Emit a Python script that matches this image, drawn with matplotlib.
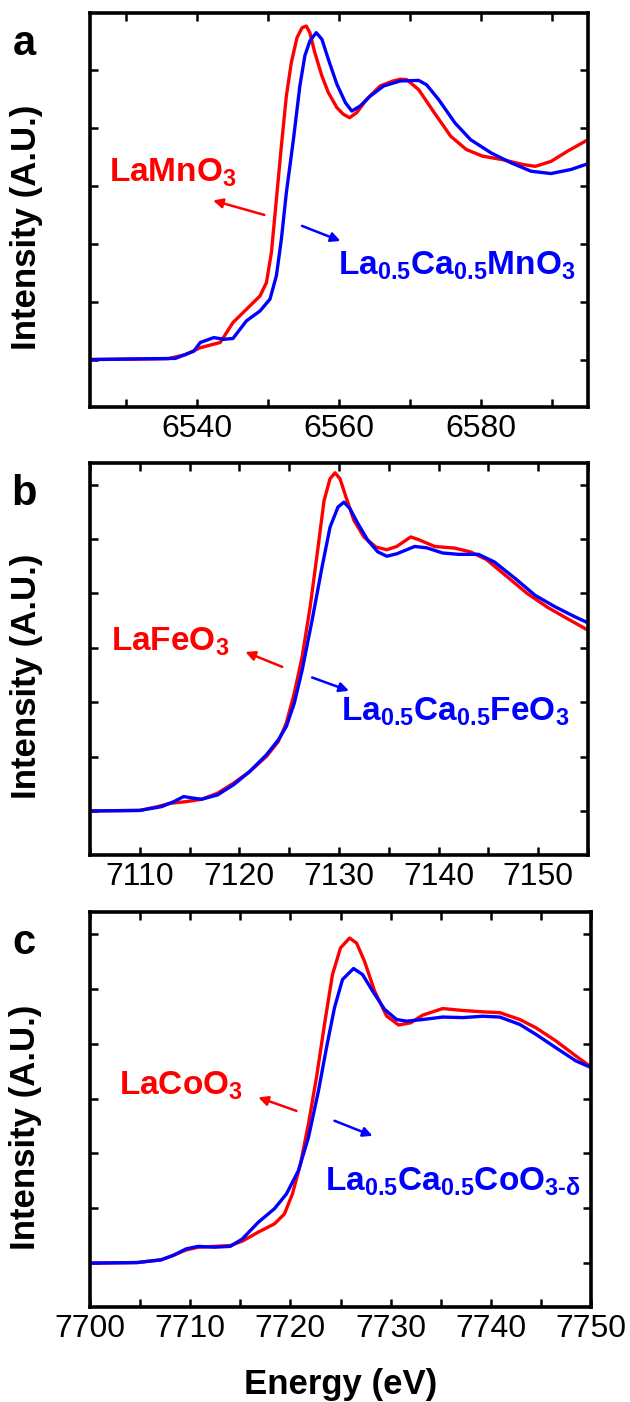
import matplotlib
matplotlib.use("Agg")
import matplotlib.pyplot as plt
from matplotlib.ticker import MultipleLocator, NullFormatter

plt.rcParams['font.family'] = ['Liberation Sans', 'DejaVu Sans']
plt.rcParams['mathtext.fontset'] = 'custom'
plt.rcParams['mathtext.rm'] = 'Liberation Sans:bold'
plt.rcParams['mathtext.bf'] = 'Liberation Sans:bold'
plt.rcParams['mathtext.default'] = 'bf'

# ---- panel a : Mn K-edge ----
mn_red_e = [6525, 6536, 6538.4, 6540.5, 6543.3, 6545.1, 6547.0, 6548.9, 6549.8, 6550.5, 6551.2,
            6551.9, 6552.6, 6553.3, 6554.1, 6554.8, 6555.4, 6555.9, 6556.6, 6557.6, 6558.5,
            6559.7, 6560.6, 6561.5, 6562.5, 6563.9, 6565.8, 6567.6, 6568.6, 6569.5, 6571.2,
            6573.4, 6575.7, 6577.9, 6580.2, 6583, 6585.9, 6587.6, 6589.8, 6592.1, 6595]
mn_red_i = [0.0, 0.003, 0.017, 0.041, 0.059, 0.128, 0.174, 0.22, 0.266, 0.37, 0.554,
            0.738, 0.911, 1.027, 1.113, 1.147, 1.153, 1.13, 1.061, 0.98, 0.923,
            0.871, 0.848, 0.836, 0.854, 0.90, 0.946, 0.963, 0.969, 0.968, 0.933,
            0.853, 0.772, 0.726, 0.703, 0.691, 0.674, 0.668, 0.685, 0.72, 0.76]
mn_blue_e = [6525, 6537, 6539.6, 6540.5, 6542.4, 6543.8, 6545.1, 6547.0, 6548.9, 6550.3, 6551.2,
             6551.9, 6552.6, 6553.6, 6554.5, 6555.2, 6555.9, 6556.8, 6557.6, 6558.5, 6559.7,
             6560.9, 6561.8, 6563.0, 6564.4, 6566.3, 6568.6, 6571.2, 6572.3, 6574, 6576.3,
             6578.5, 6581.4, 6584.2, 6587, 6589.8, 6592.6, 6595]
mn_blue_i = [0.0, 0.004, 0.029, 0.059, 0.076, 0.07, 0.073, 0.134, 0.168, 0.209, 0.29,
             0.416, 0.577, 0.762, 0.946, 1.05, 1.101, 1.13, 1.107, 1.038, 0.952,
             0.888, 0.859, 0.877, 0.911, 0.946, 0.963, 0.965, 0.95, 0.899, 0.818,
             0.76, 0.714, 0.68, 0.651, 0.643, 0.657, 0.677]

# ---- panel b : Fe K-edge ----
fe_red_e = [7105, 7110, 7111.8, 7113, 7114.6, 7116.2, 7117.8, 7119.4, 7121, 7122.7, 7123.9,
            7124.7, 7125.5, 7126.3, 7127.1, 7127.9, 7128.5, 7129.1, 7129.6, 7130.1, 7130.7,
            7131.5, 7132.5, 7133.7, 7134.8, 7135.8, 7137.2, 7138, 7139.6, 7141.6, 7143.2,
            7144.8, 7146.9, 7148.9, 7150.9, 7152.9, 7155]
fe_red_i = [0.0, 0.002, 0.016, 0.028, 0.034, 0.043, 0.065, 0.102, 0.144, 0.2, 0.255,
            0.322, 0.432, 0.567, 0.75, 0.971, 1.142, 1.222, 1.244, 1.222, 1.155,
            1.069, 1.008, 0.971, 0.961, 0.973, 1.008, 0.998, 0.973, 0.967, 0.953,
            0.925, 0.861, 0.80, 0.75, 0.708, 0.665]
fe_blue_e = [7105, 7110, 7112.2, 7113.4, 7114.4, 7115.4, 7116.2, 7117.8, 7119.4, 7121, 7122.7,
             7123.9, 7124.7, 7125.5, 7126.3, 7127.3, 7128.3, 7129.1, 7129.9, 7130.5, 7131.1,
             7131.9, 7132.9, 7133.9, 7134.8, 7135.8, 7137.6, 7138.8, 7140.4, 7142, 7144,
             7145.6, 7147.7, 7149.7, 7151.7, 7153.7, 7155]
fe_blue_i = [0.0, 0.002, 0.016, 0.034, 0.053, 0.047, 0.043, 0.059, 0.096, 0.144, 0.206,
             0.261, 0.31, 0.395, 0.518, 0.702, 0.898, 1.044, 1.118, 1.136, 1.112,
             1.057, 0.995, 0.953, 0.937, 0.946, 0.973, 0.968, 0.949, 0.944, 0.944,
             0.916, 0.855, 0.793, 0.751, 0.714, 0.692]

# ---- panel c : Co K-edge ----
co_red_e = [7700, 7704.7, 7707.1, 7708.3, 7709.6, 7710.8, 7712.4, 7714, 7715.2, 7716.8, 7718.4,
            7719.4, 7720.2, 7721, 7721.8, 7722.6, 7723.4, 7724.2, 7725, 7725.9, 7726.6,
            7727.4, 7728.4, 7729.6, 7730.8, 7732, 7733.2, 7735.2, 7737.2, 7739.2, 7740.9,
            7742.9, 7744.5, 7746.5, 7748.5, 7750]
co_red_i = [0.0, 0.002, 0.012, 0.028, 0.048, 0.058, 0.061, 0.064, 0.08, 0.113, 0.143,
            0.179, 0.252, 0.361, 0.507, 0.676, 0.87, 1.052, 1.149, 1.185, 1.167,
            1.10, 0.992, 0.901, 0.868, 0.876, 0.904, 0.928, 0.921, 0.916, 0.913,
            0.888, 0.858, 0.81, 0.755, 0.715]
co_blue_e = [7700, 7704.7, 7707.1, 7708.3, 7709.6, 7710.8, 7712.4, 7714, 7715.2, 7716.8, 7718.4,
             7719.6, 7720.8, 7721.8, 7722.8, 7723.6, 7724.4, 7725.2, 7726.3, 7727.2, 7728.2,
             7729.4, 7730.6, 7731.6, 7733.2, 7735.2, 7737.2, 7739.2, 7740.9, 7742.9, 7744.5,
             7746.5, 7748.5, 7750]
co_blue_i = [0.0, 0.002, 0.012, 0.028, 0.052, 0.061, 0.058, 0.061, 0.088, 0.149, 0.198,
             0.252, 0.337, 0.458, 0.628, 0.785, 0.931, 1.034, 1.074, 1.052, 0.992,
             0.925, 0.888, 0.882, 0.888, 0.897, 0.895, 0.90, 0.897, 0.87, 0.834,
             0.785, 0.737, 0.713]

red = '#ff0000'
blue = '#0000ff'

panels = [
    dict(letter='a', rect=[90, 13, 588, 407], xlim=(6525, 6595), ylim=(-0.164, 1.198),
         major=20, minor=10,
         red=(mn_red_e, mn_red_i), blue=(mn_blue_e, mn_blue_i),
         red_name='LaMnO$_3$', blue_name='La$_{0.5}$Ca$_{0.5}$MnO$_3$',
         red_txt=(6527.7, 0.616), blue_txt=(6559.9, 0.294),
         red_arr=((6549.5, 0.50), (6542.3, 0.55)), blue_arr=((6554.8, 0.462), (6560.2, 0.41))),
    dict(letter='b', rect=[90, 463, 588, 855], xlim=(7105, 7155), ylim=(-0.162, 1.28),
         major=10, minor=5,
         red=(fe_red_e, fe_red_i), blue=(fe_blue_e, fe_blue_i),
         red_name='LaFeO$_3$', blue_name='La$_{0.5}$Ca$_{0.5}$FeO$_3$',
         red_txt=(7107.1, 0.589), blue_txt=(7130.2, 0.334),
         red_arr=((7124.3, 0.53), (7120.6, 0.585)), blue_arr=((7127.3, 0.491), (7131.0, 0.442))),
    dict(letter='c', rect=[90, 912, 591, 1307], xlim=(7700, 7750), ylim=(-0.16, 1.28),
         major=10, minor=5,
         red=(co_red_e, co_red_i), blue=(co_blue_e, co_blue_i),
         red_name='LaCoO$_3$', blue_name='La$_{0.5}$Ca$_{0.5}$CoO$_{3\u2010\u03b4}$',
         red_txt=(7702.9, 0.613), blue_txt=(7723.5, 0.264),
         red_arr=((7720.6, 0.555), (7716.8, 0.604)), blue_arr=((7724.4, 0.519), (7728.2, 0.464))),
]

W, H = 630, 1402
fig = plt.figure(figsize=(W / 100, H / 100), dpi=100)

for i, p in enumerate(panels):
    l, t, r, b = p['rect']
    ax = fig.add_axes([l / W, 1 - b / H, (r - l) / W, (b - t) / H])
    ax.plot(*p['red'], color=red, lw=2.4, solid_joinstyle='round', solid_capstyle='round')
    ax.plot(*p['blue'], color=blue, lw=2.4, solid_joinstyle='round', solid_capstyle='round')
    ax.set_xlim(*p['xlim'])
    ax.set_ylim(*p['ylim'])
    ax.xaxis.set_major_locator(MultipleLocator(p['major']))
    ax.xaxis.set_minor_locator(MultipleLocator(p['minor']))
    ax.yaxis.set_major_locator(MultipleLocator(0.2))
    ax.yaxis.set_major_formatter(NullFormatter())
    ax.tick_params(which='both', direction='in', top=True, right=True,
                   length=6, width=1.8)
    ax.tick_params(axis='x', labelsize=23, pad=5)
    for s in ax.spines.values():
        s.set_linewidth(2.6)
    ax.set_ylabel('Intensity (A.U.)', fontsize=25, fontweight='bold')
    ax.yaxis.set_label_coords(-0.095, 0.455)
    if i == 2:
        ax.set_xlabel('Energy (eV)', fontsize=25, fontweight='bold', labelpad=17)

    ax.text(*p['red_txt'], p['red_name'], color=red, fontsize=24,
            fontweight='bold', ha='left', va='baseline')
    ax.text(*p['blue_txt'], p['blue_name'], color=blue, fontsize=24,
            fontweight='bold', ha='left', va='baseline')
    ax.annotate('', xy=p['red_arr'][1], xytext=p['red_arr'][0],
                arrowprops=dict(arrowstyle='-|>', color=red, lw=1.8, mutation_scale=14,
                                shrinkA=0, shrinkB=0))
    ax.annotate('', xy=p['blue_arr'][1], xytext=p['blue_arr'][0],
                arrowprops=dict(arrowstyle='-|>', color=blue, lw=1.8, mutation_scale=14,
                                shrinkA=0, shrinkB=0))

    fig.text(24 / W, 1 - (t + 42) / H, p['letter'], fontsize=30, fontweight='bold',
             ha='center', va='baseline')

fig.savefig('out.png', dpi=100)
